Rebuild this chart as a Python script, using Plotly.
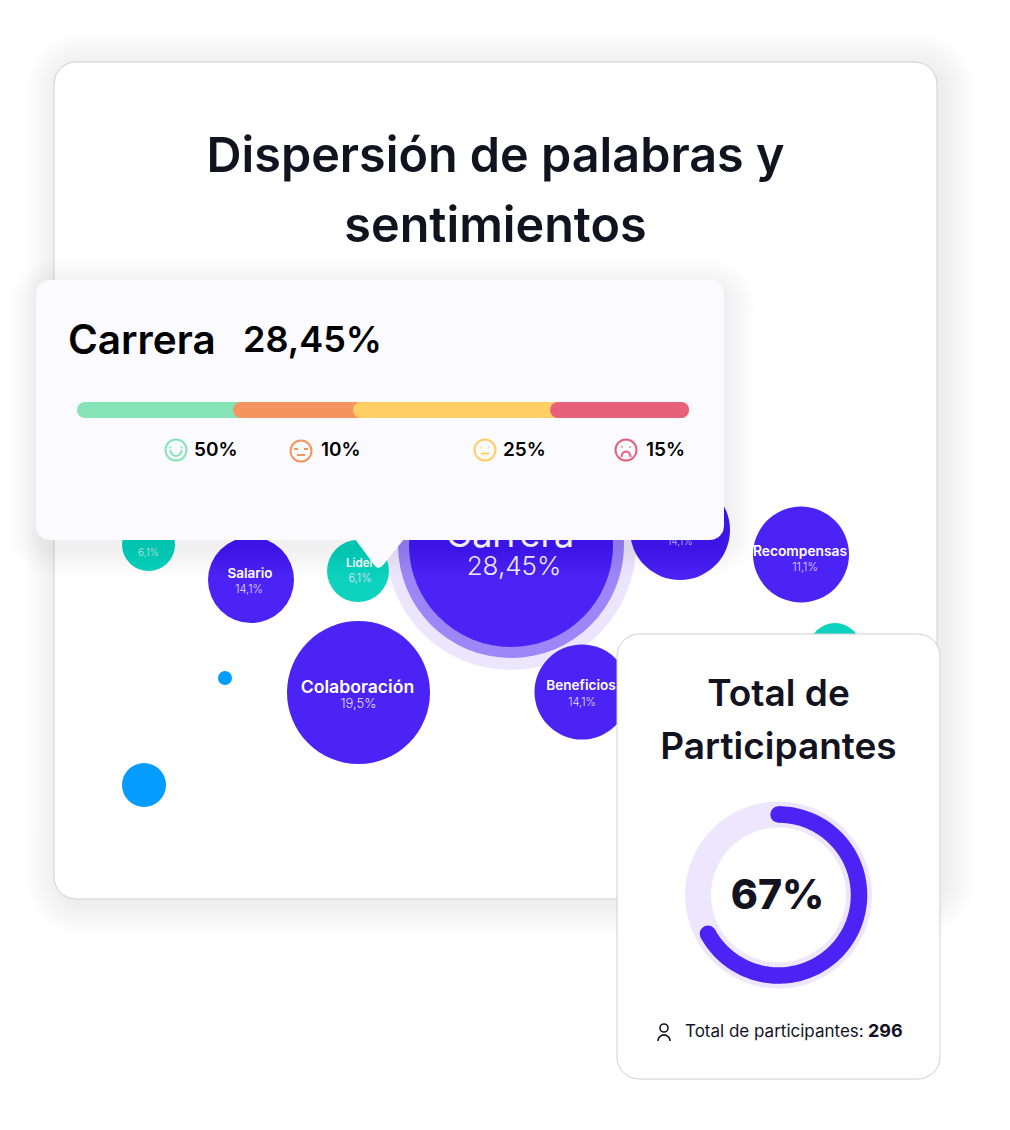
import math
import plotly.graph_objects as go

# ---- data ----
bubble_names = ["", "Salario", "Lider", "Colaboración", "Beneficios", "", "Recompensas", "", "", ""]
bubble_pct = ["6,1%", "14,1%", "6,1%", "19,5%", "14,1%", "14,1%", "11,1%", "", "", ""]
bubble_x = [148.5, 251, 358, 358.5, 582, 680, 801, 835, 225, 144]
bubble_y = [544.5, 580, 571, 692.5, 692, 530, 554.5, 649, 678, 785]
bubble_d = [53, 86, 62, 143, 95, 100, 96, 52, 14, 44]
bubble_kind = ["t", "p", "t", "p", "p", "p", "p", "t", "b", "b"]
focus_name = "Carrera"
focus_pct = "28,45%"
focus_x = 511
focus_y = 545
focus_d = [250, 226, 204]

sentiment_labels = ["50%", "10%", "25%", "15%"]
bar_share = [25.5, 19.6, 32.2, 22.7]   # visible share of the stacked bar
icon_x = [176, 301, 485, 626]
icon_y = [450, 451, 450, 450]

donut_value = 67
participants = 296

PURPLE = "#4B23F5"
TEAL = "#0DD3BE"
BLUE = "#049CFF"
INK = "#12131F"
SENT = ["#86E3B5", "#F4945F", "#FFCF66", "#E8617A"]
FONT = "Inter"
KIND = {"t": TEAL, "p": PURPLE, "b": BLUE}

fig = go.Figure()


def rrect(x0, y0, x1, y1, r, n=10):
    xs, ys = [], []
    for cx, cy, a0 in [(x1 - r, y0 + r, -90), (x1 - r, y1 - r, 0), (x0 + r, y1 - r, 90), (x0 + r, y0 + r, 180)]:
        for i in range(n + 1):
            a = math.radians(a0 + 90 * i / n)
            xs.append(cx + r * math.cos(a))
            ys.append(cy + r * math.sin(a))
    return xs + xs[:1], ys + ys[:1]


def card(x0, y0, x1, y1, r, fill, line=None, ax=("x", "y")):
    xs, ys = rrect(x0, y0, x1, y1, r)
    fig.add_trace(go.Scatter(x=xs, y=ys, mode="lines", fill="toself", fillcolor=fill,
                             line=dict(color=line or "rgba(0,0,0,0)", width=1 if line else 0),
                             hoverinfo="skip", xaxis=ax[0], yaxis=ax[1]))


def shadow(x0, y0, x1, y1, r, dx, dy, spread, alpha, ax=("x", "y")):
    for s in range(spread, 0, -2):
        card(x0 + dx - s, y0 + dy - s, x1 + dx + s, y1 + dy + s, r + s, f"rgba(30,30,50,{alpha})", ax=ax)


def label(x, y, s, size, color=INK, weight=400, pos="middle center", ax=("x", "y")):
    fig.add_trace(go.Scatter(x=[x], y=[y], mode="text", text=[s], textposition=pos,
                             textfont=dict(family=FONT, size=size, color=color, weight=weight),
                             hoverinfo="skip", xaxis=ax[0], yaxis=ax[1]))


def stroke(xs, ys, color, width=2, ax=("x3", "y3")):
    fig.add_trace(go.Scatter(x=xs, y=ys, mode="lines", line=dict(color=color, width=width, simplify=False),
                             hoverinfo="skip", xaxis=ax[0], yaxis=ax[1]))


def arc(cx, cy, rx, ry, a0, a1, n=14):
    xs = [cx + rx * math.cos(math.radians(a0 + (a1 - a0) * i / n)) for i in range(n + 1)]
    ys = [cy + ry * math.sin(math.radians(a0 + (a1 - a0) * i / n)) for i in range(n + 1)]
    return xs, ys


# ---- main card ----
shadow(54, 62, 937, 899, 22, 5, 4, 34, 0.0035)
card(54, 62, 937, 899, 22, "#FFFFFF", "#D0D0D0")
label(495.5, 160, "Dispersión de palabras y", 48.5, weight=600)
label(495.5, 229.5, "sentimientos", 48.5, weight=600)

# ---- bubbles ----
for d, c in zip(focus_d, ["#EBE5FD", "#9C86F8", PURPLE]):
    fig.add_trace(go.Scatter(x=[focus_x], y=[focus_y], mode="markers", hoverinfo="skip",
                             marker=dict(size=d, color=c, opacity=1, line=dict(width=0))))
label(focus_x - 1, 538, focus_name, 36, "#FFFFFF", 400)
label(focus_x + 3, 568, focus_pct, 26, "#F1EEFF", 300)

fig.add_trace(go.Scatter(x=bubble_x, y=bubble_y, mode="markers", hoverinfo="skip",
                         marker=dict(size=bubble_d, sizemode="diameter", opacity=1,
                                     color=[KIND[k] for k in bubble_kind], line=dict(width=0))))
name_sizes = {"Colaboración": 17.6, "Salario": 13.5, "Lider": 11.5, "Beneficios": 13.6, "Recompensas": 13.8}
name_dy = {"Colaboración": -4, "Salario": -5.5, "Lider": -6.5, "Beneficios": -5.5, "Recompensas": -2}
pct_dy = {"Colaboración": 12, "Salario": 10, "Lider": 8, "Beneficios": 11, "Recompensas": 13.5}
name_dx = {"Colaboración": -1, "Salario": -1, "Lider": 2, "Beneficios": -1, "Recompensas": -1}
pct_dx = {"Colaboración": 0, "Salario": -2, "Lider": 2, "Beneficios": 0, "Recompensas": 4}
for n, p, x, y in zip(bubble_names, bubble_pct, bubble_x, bubble_y):
    if n:
        label(x + name_dx[n], y + name_dy[n], n, name_sizes[n], "#FFFFFF", 600)
        label(x + pct_dx[n], y + pct_dy[n], p, 13 if n == "Colaboración" else 11, "#E4DFFD", 300)
    elif p:
        label(x, y + (8.5 if p == "6,1%" else 12), p, 10, "#CDEFEA" if p == "6,1%" else "#D9D3FB", 300)

# ---- tooltip ----
shadow(36, 280, 724, 540, 14, 2, 8, 30, 0.0055)
card(36, 280, 724, 540, 14, "#FBFBFF")
fig.add_trace(go.Scatter(x=[355, 404, 384, 381, 378, 375], y=[539, 539, 564, 567, 568, 566], mode="lines",
                         fill="toself", fillcolor="#FBFBFF", line=dict(width=0), hoverinfo="skip"))

# stacked sentiment bar on its own 0-100 axis (612 px wide, starting 77 px from the left)
start = 0
for share, col in zip(bar_share, SENT):
    fig.add_trace(go.Bar(x=[100 - start], base=[start], y=[410], width=[16], orientation="h",
                         marker=dict(color=col, line=dict(width=0)), hoverinfo="skip",
                         xaxis="x2", yaxis="y2"))
    start += share

A = ("x3", "y3")
label(68, 344, focus_name, 40.5, "#000000", 600, "middle right", A)
label(243, 343, focus_pct, 36, "#000000", 600, "middle right", A)
label_gap = [18, 20, 18, 20]
for i, (lab, cx, cy, col) in enumerate(zip(sentiment_labels, icon_x, icon_y, SENT)):
    fig.add_trace(go.Scatter(x=[cx], y=[cy], mode="markers", hoverinfo="skip", xaxis="x3", yaxis="y3",
                             marker=dict(symbol="circle-open", size=21, color=col, opacity=1, line=dict(color=col, width=2))))
    label(cx + label_gap[i], 451, lab, 19, "#000000", 600, "middle right", A)
    if i == 0:
        stroke(*arc(cx, cy, 5.5, 6, 0, 180), col)
        stroke([cx - 5.5, cx - 5.5], [cy - 3.5, cy - 1.5], col)
        stroke([cx + 5.5, cx + 5.5], [cy - 3.5, cy - 1.5], col)
    elif i == 1:
        stroke([cx - 7, cx - 3], [cy - 2, cy - 2], col)
        stroke([cx + 3, cx + 7], [cy - 2, cy - 2], col)
        stroke([cx - 4, cx + 4], [cy + 4, cy + 4], col)
    elif i == 2:
        stroke([cx - 4.5, cx - 3.5], [cy - 2.5, cy - 2.5], col)
        stroke([cx + 3.5, cx + 4.5], [cy - 2.5, cy - 2.5], col)
        stroke([cx - 4, cx + 4], [cy + 3.5, cy + 3.5], col)
    else:
        stroke([cx - 4.5, cx - 3.5], [cy - 3, cy - 3], col)
        stroke([cx + 3.5, cx + 4.5], [cy - 3, cy - 3], col)
        stroke(*arc(cx, cy + 7, 4.5, 5.5, 180, 360), col)

# ---- participants card ----
card(617, 634, 940, 1079, 22, "#FFFFFF", "#D0D0D0", A)
label(778.5, 697, "Total de", 37, INK, 600, ax=A)
label(778.5, 750, "Participantes", 37, INK, 600, ax=A)

cx, cy = 778.5, 895
fig.add_trace(go.Scatter(x=[cx], y=[cy], mode="markers", hoverinfo="skip", xaxis="x3", yaxis="y3",
                         marker=dict(size=187, color="#EDE6FD", opacity=1, line=dict(width=0))))
fig.add_trace(go.Scatter(x=[cx], y=[cy], mode="markers", hoverinfo="skip", xaxis="x3", yaxis="y3",
                         marker=dict(size=135, color="#FFFFFF", opacity=1, line=dict(width=0))))
sweep = donut_value / 100 * 360
n = 120
ax_ = [cx + 80.5 * math.sin(math.radians(sweep * i / n)) for i in range(n + 1)]
ay_ = [cy - 80.5 * math.cos(math.radians(sweep * i / n)) for i in range(n + 1)]
stroke(ax_, ay_, PURPLE, 16.5)
fig.add_trace(go.Scatter(x=[ax_[0], ax_[-1]], y=[ay_[0], ay_[-1]], mode="markers", hoverinfo="skip",
                         xaxis="x3", yaxis="y3", marker=dict(size=16.5, color=PURPLE, opacity=1, line=dict(width=0))))
label(777.5, 899, f"{donut_value}%", 41, INK, 800, ax=A)

fig.add_trace(go.Scatter(x=[664], y=[1028], mode="markers", hoverinfo="skip", xaxis="x3", yaxis="y3",
                         marker=dict(symbol="circle-open", size=8, color=INK, opacity=1, line=dict(color=INK, width=1.6))))
stroke(*arc(664, 1041, 6, 6, 180, 360), INK, 1.6)
label(685, 1033, "Total de participantes:", 17, INK, 400, "middle right", A)
label(868, 1032, str(participants), 18, INK, 700, "middle right", A)

# ---- layout ----
ax_common = dict(visible=False, fixedrange=True, autorange=False)
bar_px = 612 / 100
fig.update_layout(
    width=1010, height=1130, margin=dict(l=0, r=0, t=0, b=0),
    paper_bgcolor="#FFFFFF", plot_bgcolor="#FFFFFF", showlegend=False,
    barmode="overlay", barcornerradius=8,
    xaxis=dict(range=[0, 1010], domain=[0, 1], **ax_common),
    yaxis=dict(range=[1130, 0], domain=[0, 1], **ax_common),
    xaxis2=dict(range=[-77 / bar_px, (1010 - 77) / bar_px], overlaying="x", anchor="y2", **ax_common),
    yaxis2=dict(range=[1130, 0], domain=[0, 1], overlaying="y", anchor="x2", **ax_common),
    xaxis3=dict(range=[0, 1010], domain=[0, 1], overlaying="x", anchor="y3", **ax_common),
    yaxis3=dict(range=[1130, 0], domain=[0, 1], overlaying="y", anchor="x3", **ax_common),
)
fig.write_html("out.html", config=dict(displayModeBar=False),
               post_script="document.body.style.margin='0';document.body.style.overflow='hidden';")
